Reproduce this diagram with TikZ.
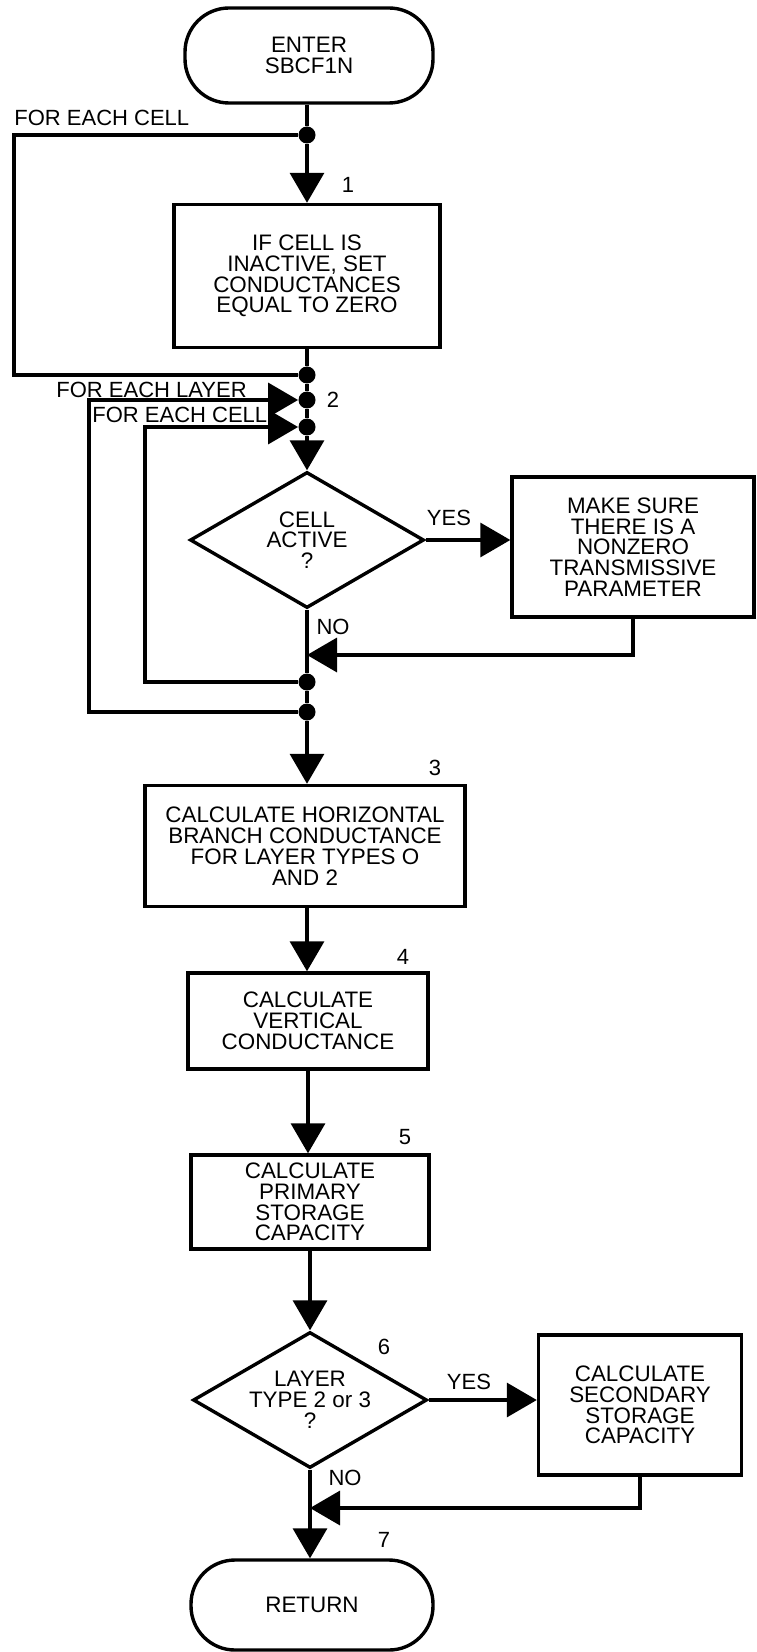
\documentclass[tikz,border=0pt]{standalone}
\usepackage{fontspec}
\setmainfont{Liberation Sans}
\usetikzlibrary{arrows.meta,shapes.geometric,positioning}
\tikzstyle{terminal}=[draw, line width=1.7pt, rounded corners=22pt, minimum width=124pt, minimum height=47.5pt, align=center]
\tikzstyle{process}=[draw, line width=1.7pt, inner sep=0pt, align=center]
\tikzstyle{decision}=[draw, line width=1.7pt, diamond, aspect=1.7, inner sep=0pt, minimum width=117pt, minimum height=68pt, align=center]
\tikzstyle{junction}=[circle, fill, inner sep=0pt, minimum size=8.5pt]
\tikzstyle{labelText}=[inner sep=0pt, font=\fontsize{11}{10}\selectfont]
\tikzstyle{flowLine}=[line width=1.7pt]
\tikzstyle{flowArrow}=[line width=1.7pt, -{Triangle[length=15pt,width=17pt]}]

\begin{document}
\begin{tikzpicture}[x=0.5pt, y=-0.5pt, font=\fontsize{11.2}{10.4}\selectfont]
    \useasboundingbox (0,0) rectangle (756,1652);

    \node[terminal] (enter) at (309, 55.5) {ENTER\\SBCF1N};
    \node[junction] (jA) at (307, 135) {};
    \node[process, minimum width=133pt, minimum height=71.5pt] (box1) at (307, 276) {IF CELL IS\\INACTIVE, SET\\CONDUCTANCES\\EQUAL TO ZERO};
    \node[junction] (jB) at (307, 375) {};
    \node[junction] (jLayer) at (307, 400) {};
    \node[junction] (jCell) at (307, 427) {};
    \node[decision] (active) at (307, 540) {CELL\\ACTIVE\\?};
    \node[process, minimum width=121pt, minimum height=70pt] (nonzero) at (633, 547) {MAKE SURE\\THERE IS A\\NONZERO\\TRANSMISSIVE\\PARAMETER};
    \coordinate (merge1) at (307, 655);
    \node[junction] (jCellEnd) at (307, 682) {};
    \node[junction] (jLayerEnd) at (307, 712) {};

    \node[process, minimum width=160pt, minimum height=60.5pt] (horiz) at (305, 846) {CALCULATE HORIZONTAL\\BRANCH CONDUCTANCE\\FOR LAYER TYPES O\\AND 2};
    \node[process, minimum width=120pt, minimum height=48pt] (vert) at (308, 1021) {CALCULATE\\VERTICAL\\CONDUCTANCE};
    \node[process, minimum width=119pt, minimum height=47pt] (primary) at (310, 1202) {CALCULATE\\PRIMARY\\STORAGE\\CAPACITY};
    \node[decision] (layertype) at (310, 1400) {LAYER\\TYPE 2 or 3\\?};
    \node[process, minimum width=101.5pt, minimum height=70pt] (secondary) at (640, 1405) {CALCULATE\\SECONDARY\\STORAGE\\CAPACITY};
    \coordinate (merge2) at (310, 1508);
    \node[terminal, minimum width=121pt, minimum height=45pt] (return) at (312, 1605) {RETURN};

    % Labels
    \node[labelText, anchor=west] (lblCellA) at (14, 118) {FOR EACH CELL};
    \node[labelText, anchor=west] (lblLayer) at (56, 390) {FOR EACH LAYER};
    \node[labelText, anchor=west] (lblCellB) at (92, 415) {FOR EACH CELL};
    \node[labelText] (num1) at (348, 185) {1};
    \node[labelText] (num2) at (333, 400) {2};
    \node[labelText] (num3) at (435, 768) {3};
    \node[labelText] (num4) at (403, 957) {4};
    \node[labelText] (num5) at (405, 1137) {5};
    \node[labelText] (num6) at (384, 1347) {6};
    \node[labelText] (num7) at (384, 1540) {7};
    \node[labelText] (yesA) at (449, 518) {YES};
    \node[labelText] (noA) at (333, 627) {NO};
    \node[labelText] (yesB) at (469, 1382) {YES};
    \node[labelText] (noB) at (345, 1478) {NO};

    % Main line
    \draw[flowLine] (enter.south -| jA) -- (jA);
    \draw[flowArrow] (jA) -- (box1);
    \draw[flowLine] (box1) -- (jB) -- (jLayer) -- (jCell);
    \draw[flowArrow] (jCell) -- (active);
    \draw[flowArrow] (active.east) -- (active.east -| nonzero.west);
    \draw[flowArrow] (nonzero.south) |- (merge1);
    \draw[flowLine] (active) -- (merge1) -- (jCellEnd) -- (jLayerEnd);
    \draw[flowArrow] (jLayerEnd) -- (jLayerEnd |- horiz.north);
    \draw[flowArrow] (horiz.south -| jLayerEnd) -- (jLayerEnd |- vert.north);
    \draw[flowArrow] (vert) -- (vert |- primary.north);
    \draw[flowArrow] (primary) -- (layertype);
    \draw[flowArrow] (layertype.east) -- (layertype.east -| secondary.west);
    \draw[flowArrow] (secondary.south) |- (merge2);
    \draw[flowLine] (layertype) -- (merge2);
    \draw[flowArrow] (merge2) -- (merge2 |- return.north);

    % Loops
    \draw[flowLine] (jA) -- ++(-293,0) |- (jB);
    \draw[flowArrow] (jLayerEnd) -- ++(-218,0) |- (jLayer);
    \draw[flowArrow] (jCellEnd) -- ++(-162,0) |- (jCell);

\end{tikzpicture}
\end{document}
